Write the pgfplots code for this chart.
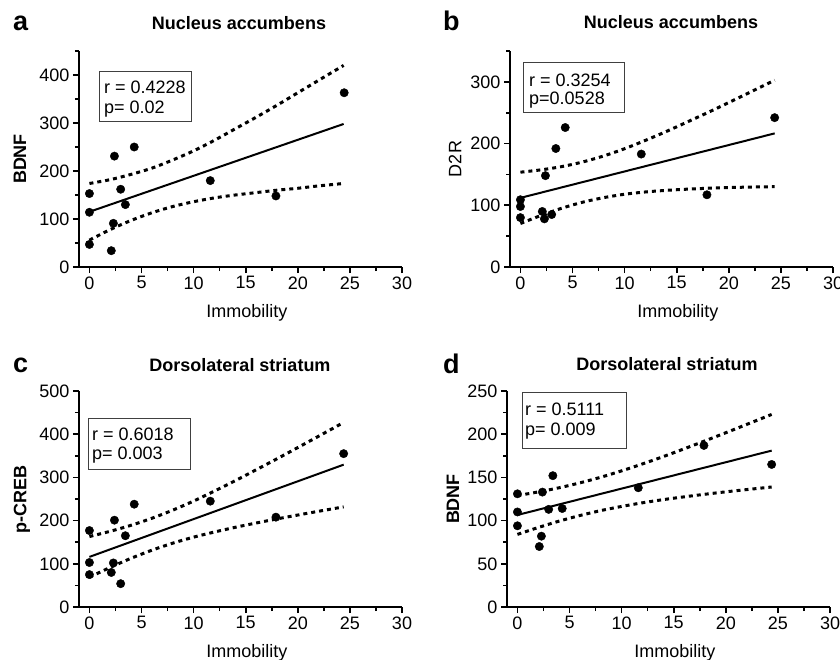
\documentclass[border=0pt]{standalone}
\usepackage{fontspec}
\setmainfont{Liberation Sans}
\usepackage{pgfplots}
\pgfplotsset{compat=1.18}

\newcommand{\fs}{\fontsize{18}{20}\selectfont}

\pgfplotsset{
  corr/.style={
    scale only axis, width=323pt, height=216pt,
    axis lines=left, axis line style={-, line width=1.8pt},
    xmin=-1, xmax=30, ymin=0,
    xtick={0,5,...,30}, minor xtick={2.5,7.5,...,27.5},
    tick align=outside, major tick length=6pt, minor tick length=4pt,
    every tick/.style={black, line width=1.6pt},
    tick label style={font=\fs},
    /pgf/number format/assume math mode=true,
    xlabel={Immobility},
    every axis x label/.style={at={(rel axis cs:0.52,0)}, anchor=center, yshift=-46pt, font=\fs},
    every axis y label/.style={at={(rel axis cs:0,0.5)}, rotate=90, anchor=center, font=\fs},
    clip=false,
  },
  pts/.style={only marks, mark=*, mark size=4.2pt, black},
  fit/.style={black, line width=2pt, no marks},
  ci/.style={black, line width=3pt, no marks, dash pattern=on 4pt off 4pt, smooth},
}

\begin{document}
\begin{tikzpicture}
\path[use as bounding box] (0pt,0pt) rectangle (840pt,-660pt);

% a
\begin{axis}[corr, at={(79pt,-267pt)}, anchor=south west,
  ymax=450, ytick={0,100,...,400}, minor ytick={50,150,...,450},
  ylabel={\textbf{BDNF}}, ylabel style={yshift=59pt}]
\addplot[pts] coordinates {(0,153) (0,114) (0,47) (2.1,34) (2.3,91) (2.4,231) (3.0,162) (3.45,130) (4.3,250) (11.6,180) (17.9,148) (24.45,363)};
\addplot[fit] coordinates {(0,115) (24.4,298)};
\addplot[ci] coordinates {(0,174) (2,182) (4,193) (6,206) (8,223) (10,242) (12,264) (14,288) (16,312) (18,337) (20,363) (22,389) (24.4,420)};
\addplot[ci] coordinates {(0,56) (2,78) (4,97) (6,113) (8,126) (10,136) (12,144) (14,150) (16,155) (18,160) (20,164) (22,169) (24.4,174)};
\end{axis}

% b
\begin{axis}[corr, at={(510pt,-267pt)}, anchor=south west,
  ymax=350, ytick={0,100,...,300}, minor ytick={50,150,...,350},
  ylabel={D2R}, ylabel style={yshift=55pt}]
\addplot[pts] coordinates {(0,109) (0,98) (0,80) (2.1,90) (2.3,78) (2.4,148) (3.0,85) (3.4,192) (4.3,226) (11.6,183) (17.9,117) (24.4,242)};
\addplot[fit] coordinates {(0,112) (24.4,216.5)};
\addplot[ci] coordinates {(0,153.6) (2,157.5) (4,162.8) (6,170.3) (8,180.0) (10,191.7) (12,205.2) (14,219.6) (16,234.9) (18,250.4) (20,266.5) (22,282.9) (24.4,302.6)};
\addplot[ci] coordinates {(0,70.4) (2,83.7) (4,95.4) (6,105.1) (8,112.4) (10,117.9) (12,121.6) (14,124.2) (16,126.1) (18,127.6) (20,128.7) (22,129.5) (24.4,130.2)};
\end{axis}

% c
\begin{axis}[corr, at={(79pt,-607pt)}, anchor=south west,
  ymax=500, ytick={0,100,...,500}, minor ytick={50,150,...,450},
  ylabel={\textbf{p-CREB}}, ylabel style={yshift=57pt}]
\addplot[pts] coordinates {(0,177) (0,103) (0,75) (2.1,80) (2.3,102) (2.4,201) (3.0,54) (3.45,165) (4.3,238) (11.6,245) (17.9,208) (24.4,355)};
\addplot[fit] coordinates {(0,116) (24.4,329.5)};
\addplot[ci] coordinates {(0,163.1) (2,175.3) (4,189.2) (6,205.5) (8,224.2) (10,245.3) (12,268.4) (14,292.5) (16,317.6) (18,343.1) (20,369.1) (22,395.4) (24.4,427.2)};
\addplot[ci] coordinates {(0,68.9) (2,91.7) (4,112.8) (6,131.5) (8,147.8) (10,161.7) (12,173.6) (14,184.5) (16,194.4) (18,203.9) (20,212.9) (22,221.6) (24.4,231.8)};
\end{axis}

% d
\begin{axis}[corr, at={(507pt,-607pt)}, anchor=south west,
  ymax=250, ytick={0,50,...,250}, minor ytick={25,75,...,225},
  ylabel={\textbf{BDNF}}, ylabel style={yshift=54pt}]
\addplot[pts] coordinates {(0,131) (0,110) (0,94) (2.1,70) (2.3,82) (2.4,133) (3.0,113) (3.4,152) (4.3,114) (11.6,138) (17.9,187) (24.4,165)};
\addplot[fit] coordinates {(0,106.5) (24.4,181)};
\addplot[ci] coordinates {(0,129.0) (2,133.2) (4,138.0) (6,143.7) (8,150.2) (10,157.6) (12,165.6) (14,174.1) (16,183.1) (18,192.3) (20,201.7) (22,211.3) (24.4,222.9)};
\addplot[ci] coordinates {(0,84.0) (2,92.0) (4,99.4) (6,105.9) (8,111.6) (10,116.4) (12,120.6) (14,124.3) (16,127.5) (18,130.5) (20,133.3) (22,135.9) (24.4,138.9)};
\end{axis}

% panel letters and titles
\begin{scope}[every node/.style={inner sep=0pt, anchor=base}]
\node[anchor=base west, font=\fontsize{27}{30}\selectfont\bfseries] at (13pt,-31pt) {a};
\node[anchor=base west, font=\fontsize{27}{30}\selectfont\bfseries] at (443pt,-31pt) {b};
\node[anchor=base west, font=\fontsize{27}{30}\selectfont\bfseries] at (13pt,-372pt) {c};
\node[anchor=base west, font=\fontsize{27}{30}\selectfont\bfseries] at (443pt,-373pt) {d};
\node[font=\fs\bfseries] at (239pt,-29.5pt) {Nucleus accumbens};
\node[font=\fs\bfseries] at (671pt,-29pt) {Nucleus accumbens};
\node[font=\fs\bfseries] at (240pt,-371.5pt) {Dorsolateral striatum};
\node[font=\fs\bfseries] at (667pt,-370pt) {Dorsolateral striatum};
\end{scope}

% statistics boxes
\begin{scope}[every node/.style={inner sep=0pt, anchor=base west, font=\fs}]
\draw[black!75, line width=1pt] (99pt,-72pt) rectangle (191pt,-122pt);
\node at (104pt,-94pt) {r = 0.4228};
\node at (104pt,-113.5pt) {p= 0.02};
\draw[black!75, line width=1pt] (523pt,-63pt) rectangle (624pt,-113pt);
\node at (529pt,-86.5pt) {r = 0.3254};
\node at (529pt,-105pt) {p=0.0528};
\draw[black!75, line width=1pt] (88pt,-418pt) rectangle (190pt,-469pt);
\node at (92pt,-440pt) {r = 0.6018};
\node at (92pt,-459.5pt) {p= 0.003};
\draw[black!75, line width=1pt] (522pt,-392pt) rectangle (626pt,-448pt);
\node at (525pt,-415pt) {r = 0.5111};
\node at (525pt,-435pt) {p= 0.009};
\end{scope}
\end{tikzpicture}
\end{document}
